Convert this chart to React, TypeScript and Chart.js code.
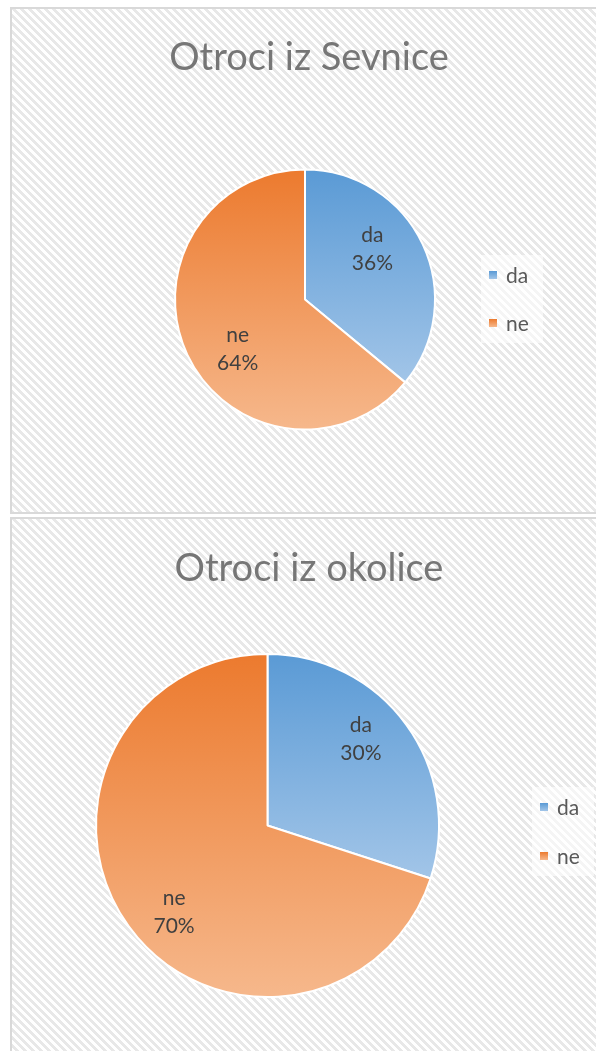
import React, { useEffect, useRef } from "react";
import { Chart, registerables } from "chart.js";

Chart.register(...registerables);

// ---- data ----
const categories = ["da", "ne"];
const sevnicaValues = [36, 64];
const okolicaValues = [30, 70];
const chartTitles = ["Otroci iz Sevnice", "Otroci iz okolice"];

// ---- styles ----
const FONT = "Lato, 'Open Sans', sans-serif";
const gradientStops = [
  ["#5a9ad5", "#a2c5e8"],
  ["#ec7a2e", "#f6b88c"],
];

function makeHatch(ctx: CanvasRenderingContext2D) {
  const t = document.createElement("canvas");
  const n = 8;
  t.width = n;
  t.height = n;
  const c = t.getContext("2d")!;
  c.fillStyle = "#ffffff";
  c.fillRect(0, 0, n, n);
  c.fillStyle = "#e8e8e8";
  for (let y = 0; y < n; y++)
    for (let x = 0; x < n; x++) if ((((x - y) % n) + n) % n < 4) c.fillRect(x, y, 1, 1);
  return ctx.createPattern(t, "repeat")!;
}

function sliceGradient(c: any) {
  const chart = c.chart;
  const area = chart.chartArea;
  const idx = c.dataIndex;
  const stops = gradientStops[idx % gradientStops.length];
  if (!area) return stops[0];
  const data: number[] = c.dataset.data;
  const total = data.reduce((a, b) => a + b, 0);
  const before = data.slice(0, idx).reduce((a, b) => a + b, 0);
  const start = -Math.PI / 2 + (2 * Math.PI * before) / total;
  const end = start + (2 * Math.PI * data[idx]) / total;
  const cy = (area.top + area.bottom) / 2;
  const r = Math.min(area.right - area.left, area.bottom - area.top) / 2;
  const ys = [cy, cy + r * Math.sin(start), cy + r * Math.sin(end)];
  const contains = (a: number) => {
    let k = a;
    while (k < start) k += 2 * Math.PI;
    return k <= end + 1e-9;
  };
  if (contains(Math.PI / 2)) ys.push(cy + r);
  if (contains(-Math.PI / 2)) ys.push(cy - r);
  const y0 = Math.min(...ys);
  const y1 = Math.max(...ys);
  const g = chart.ctx.createLinearGradient(0, y0, 0, y1);
  g.addColorStop(0, stops[0]);
  g.addColorStop(1, stops[1]);
  return g;
}

const decorPlugin = {
  id: "decor",
  beforeDraw(chart: any, _args: any, opts: any) {
    const { ctx, width, height } = chart;
    ctx.save();
    ctx.fillStyle = makeHatch(ctx);
    ctx.fillRect(0, 0, width, height);
    ctx.strokeStyle = "#d9d9d9";
    ctx.lineWidth = 2;
    ctx.strokeRect(1, 1, width - 2, height - 2);
    ctx.fillStyle = "#767676";
    ctx.font = `${opts.titleSize}px ${FONT}`;
    ctx.textAlign = "center";
    ctx.textBaseline = "middle";
    ctx.fillText(opts.title, width / 2, opts.titleY);
    ctx.restore();
  },
  afterDatasetsDraw(chart: any, _args: any, opts: any) {
    const { ctx } = chart;
    const meta = chart.getDatasetMeta(0);
    const data: number[] = chart.data.datasets[0].data;
    const labels: string[] = chart.data.labels;
    const total = data.reduce((a, b) => a + b, 0);
    ctx.save();
    ctx.textAlign = "center";
    ctx.textBaseline = "middle";
    ctx.font = `${opts.labelSize}px ${FONT}`;
    ctx.fillStyle = "#404040";
    meta.data.forEach((arc: any, i: number) => {
      const p = arc.getProps(["x", "y", "startAngle", "endAngle", "outerRadius"], true);
      const mid = (p.startAngle + p.endAngle) / 2 + opts.angleShift;
      const d = p.outerRadius - opts.labelInset;
      const x = p.x + d * Math.cos(mid);
      const y = p.y + d * Math.sin(mid);
      const pct = Math.round((data[i] / total) * 100) + "%";
      ctx.fillText(labels[i], x, y - opts.lineGap / 2);
      ctx.fillText(pct, x, y + opts.lineGap / 2);
    });
    // legend
    const lg = opts.legend;
    ctx.fillStyle = "rgba(255,255,255,0.55)";
    ctx.fillRect(lg.x - 8, lg.y - 20, 62, lg.gap + 40);
    ctx.textAlign = "left";
    ctx.font = `${opts.labelSize}px ${FONT}`;
    labels.forEach((lab, i) => {
      const cy = lg.y + i * lg.gap;
      const st = gradientStops[i % gradientStops.length];
      const g = ctx.createLinearGradient(0, cy - 4, 0, cy + 4);
      g.addColorStop(0, st[0]);
      g.addColorStop(1, st[1]);
      ctx.fillStyle = g;
      ctx.fillRect(lg.x, cy - 4, 8, 8);
      ctx.fillStyle = "#595959";
      ctx.fillText(lab, lg.x + 17, cy + 1);
    });
    ctx.restore();
  },
};

type CardProps = {
  values: number[];
  title: string;
  left: number;
  top: number;
  width: number;
  height: number;
  padding: { left: number; right: number; top: number; bottom: number };
  decor: any;
};

function PieCard({ values, title, left, top, width, height, padding, decor }: CardProps) {
  const ref = useRef<HTMLCanvasElement>(null);
  useEffect(() => {
    if (!ref.current) return;
    const chart = new Chart(ref.current, {
      type: "pie",
      data: {
        labels: categories,
        datasets: [
          {
            data: values,
            backgroundColor: sliceGradient as any,
            borderColor: "#ffffff",
            borderWidth: 2,
          },
        ],
      },
      options: {
        responsive: false,
        animation: false,
        layout: { padding },
        plugins: {
          legend: { display: false },
          tooltip: { enabled: false },
          title: { display: false },
          decor: { title, ...decor },
        } as any,
      },
      plugins: [decorPlugin],
    });
    return () => chart.destroy();
  }, []);
  return (
    <canvas
      ref={ref}
      width={width}
      height={height}
      style={{ position: "absolute", left, top, width, height }}
    />
  );
}

export default function App() {
  return (
    <div style={{ position: "fixed", inset: 0, overflow: "hidden", background: "#ffffff" }}>
      <PieCard
        values={sevnicaValues}
        title={chartTitles[0]}
        left={10}
        top={7}
        width={598}
        height={507}
        padding={{ left: 164, right: 172, top: 161, bottom: 83 }}
        decor={{
          titleSize: 38,
          titleY: 51,
          labelSize: 21,
          lineGap: 28,
          labelInset: 46,
          angleShift: -0.2,
          legend: { x: 479, y: 268, gap: 48 },
        }}
      />
      <PieCard
        values={okolicaValues}
        title={chartTitles[1]}
        left={10}
        top={517}
        width={598}
        height={545}
        padding={{ left: 85, right: 168, top: 135, bottom: 63 }}
        decor={{
          titleSize: 38,
          titleY: 52,
          labelSize: 21,
          lineGap: 28,
          labelInset: 44,
          angleShift: -0.12,
          legend: { x: 530, y: 290, gap: 49 },
        }}
      />
    </div>
  );
}
